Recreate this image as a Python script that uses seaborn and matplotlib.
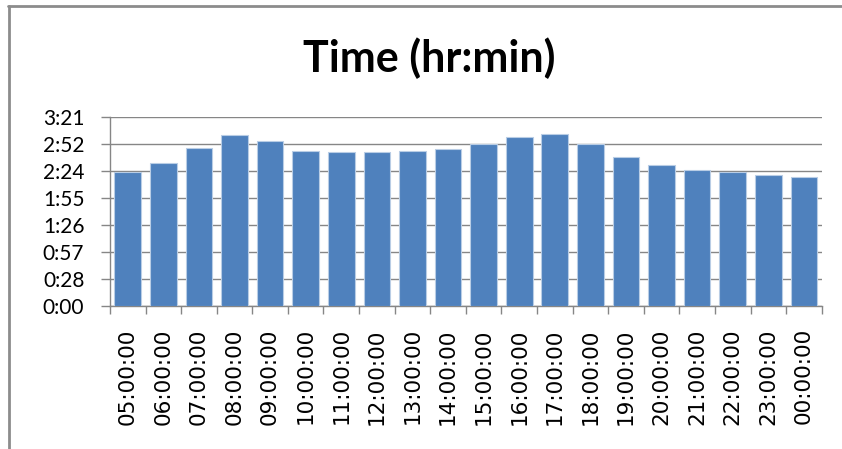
import numpy as np
import pandas as pd
import matplotlib
matplotlib.use("Agg")
import matplotlib.pyplot as plt
from matplotlib.lines import Line2D
from matplotlib.ticker import FixedLocator, FuncFormatter
import seaborn as sns

# hour of day labels and average time (minutes)
hours = ["05:00:00", "06:00:00", "07:00:00", "08:00:00", "09:00:00",
         "10:00:00", "11:00:00", "12:00:00", "13:00:00", "14:00:00",
         "15:00:00", "16:00:00", "17:00:00", "18:00:00", "19:00:00",
         "20:00:00", "21:00:00", "22:00:00", "23:00:00", "00:00:00"]
minutes = [143, 152, 168, 182, 176, 165.5, 164, 164, 165.5, 167,
           173, 180, 183, 173, 158.5, 150.5, 145, 143, 139.5, 137]

# excel style ticks: every 0.02 day
y_ticks = [i * 28.8 for i in range(8)]

df = pd.DataFrame({"hour": hours, "minutes": minutes})

sns.set_style("white")
plt.rcParams["font.family"] = ["Lato", "DejaVu Sans"]
plt.rcParams["text.color"] = "black"
plt.rcParams["xtick.labelcolor"] = "black"
plt.rcParams["ytick.labelcolor"] = "black"

fig = plt.figure(figsize=(8.42, 4.49), dpi=100)
ax = fig.add_axes([0.1306, 0.3185, 0.9759 - 0.1306, 0.740 - 0.3185])

sns.barplot(data=df, x="hour", y="minutes", color="#4F81BD", saturation=1,
            width=0.75, edgecolor="#B9CDE5", linewidth=0.8, ax=ax, zorder=3)

def hm(v, pos):
    m = int(v + 1e-6)
    return "%d:%02d" % (m // 60, m % 60)

ax.set_ylim(0, 201.6)
ax.yaxis.set_major_locator(FixedLocator(y_ticks))
ax.yaxis.set_major_formatter(FuncFormatter(hm))
ax.set_xlim(-0.5, len(hours) - 0.5)
ax.grid(axis="y", color="#868686", linewidth=1, zorder=0)
ax.set_xlabel("")
ax.set_ylabel("")

# category ticks sit between the bars
ax.set_xticks(range(len(hours)))
ax.set_xticklabels(hours, fontfamily="DejaVu Sans", fontsize=15.5,
                   rotation=90, color="black")
ax.xaxis.set_minor_locator(FixedLocator(np.arange(-0.5, len(hours), 1)))
ax.tick_params(axis="x", which="major", length=0, pad=16)
ax.tick_params(axis="x", which="minor", length=5.8, width=1, color="#868686",
               bottom=True)
ax.tick_params(axis="y", length=6.5, width=1, color="#868686", labelsize=15,
               pad=12, left=True)

for s in ["top", "right"]:
    ax.spines[s].set_visible(False)
for s in ["left", "bottom"]:
    ax.spines[s].set_color("#868686")
    ax.spines[s].set_linewidth(1)

fig.text(0.51, 0.87, "Time (hr:min)", ha="center", va="center",
         fontsize=31, fontweight="bold", color="black")

# chart area border (top and left visible)
fig.add_artist(Line2D([8 / 842, 1], [1 - 5.5 / 449] * 2, color="#8C8C8C", lw=2,
                      transform=fig.transFigure))
fig.add_artist(Line2D([8.5 / 842] * 2, [0, 1 - 5.5 / 449], color="#8C8C8C", lw=2,
                      transform=fig.transFigure))

fig.savefig("out.png", dpi=100)
